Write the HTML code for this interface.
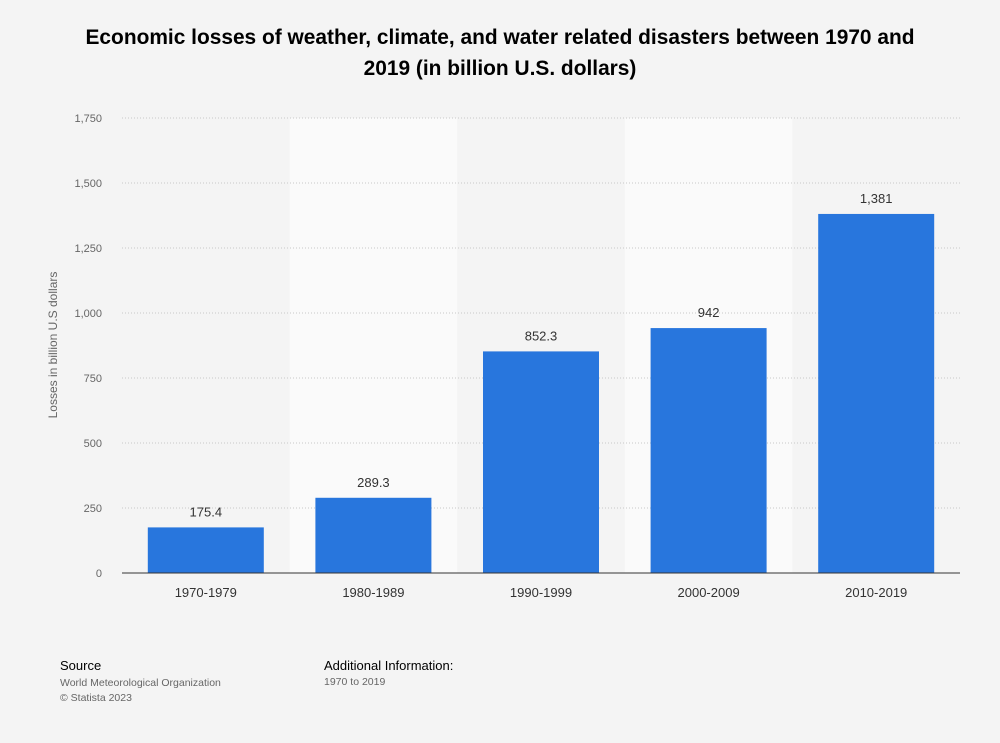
<!DOCTYPE html>
<html><head><meta charset="utf-8"><style>
body{margin:0;background:#f4f4f4;font-family:"Liberation Sans",Arial,sans-serif;}
#wrap{position:relative;width:1000px;height:743px;overflow:hidden;background:#f4f4f4;}
.t{position:absolute;}
</style></head><body>
<div id="wrap">
<div class="t" style="left:40px;width:920px;top:22px;text-align:center;font-weight:bold;font-size:20.9px;line-height:31px;color:#000;">Economic losses of weather, climate, and water related disasters between 1970 and<br>2019 (in billion U.S. dollars)</div>
<svg id="chart" width="1000" height="743" style="position:absolute;left:0;top:0"></svg>
<div class="t" style="left:60px;top:658px;font-size:13px;color:#000;">Source</div>
<div class="t" style="left:60px;top:676px;font-size:10.5px;color:#666;line-height:15px;">World Meteorological Organization<br>© Statista 2023</div>
<div class="t" style="left:324px;top:658px;font-size:13px;color:#000;">Additional Information:</div>
<div class="t" style="left:324px;top:676px;font-size:10.5px;color:#666;">1970 to 2019</div>
</div>
<script>
const categories=["1970-1979","1980-1989","1990-1999","2000-2009","2010-2019"];
const values=[175.4,289.3,852.3,942,1381];
const valueLabels=["175.4","289.3","852.3","942","1,381"];
const ticks=[0,250,500,750,1000,1250,1500,1750];
const tickLabels=["0","250","500","750","1,000","1,250","1,500","1,750"];
const NS="http://www.w3.org/2000/svg";
const svg=document.getElementById('chart');
const X0=122,X1=960,Y0=573,Y1=118,MAX=1750;
const bw=(X1-X0)/categories.length;
const y=v=>Y0-(v/MAX)*(Y0-Y1);
const xc=i=>X0+bw*(i+0.5);
function mk(tag,attrs){const e=document.createElementNS(NS,tag);for(const k in attrs)e.setAttribute(k,attrs[k]);svg.appendChild(e);return e;}
categories.forEach((c,i)=>{if(i%2===1){const r=mk('rect',{x:X0+bw*i,y:Y1,width:bw,height:Y0-Y1,fill:'#fafafa'});

}});
ticks.forEach((t,i)=>{
 if(t>0){const l=mk('line',{x1:X0,x2:X1,y1:y(t),y2:y(t),stroke:'#c8c8c8','stroke-dasharray':'1,2'});
 
 }
 const tx=mk('text',{x:102,y:y(t)+4,'text-anchor':'end','font-size':11,fill:'#666'});tx.textContent=tickLabels[i];
 
 
});
categories.forEach((c,i)=>{
 const w=116;
 const r=mk('rect',{x:xc(i)-w/2,y:y(values[i]),width:w,height:Y0-y(values[i]),fill:'#2876dd'});
 
 
 const v=mk('text',{x:xc(i),y:y(values[i])-11,'text-anchor':'middle','font-size':13,fill:'#333'});v.textContent=valueLabels[i];
 
 
 const xl=mk('text',{x:xc(i),y:597,'text-anchor':'middle','font-size':13,fill:'#333'});xl.textContent=c;
 
 
});
const ax=mk('line',{x1:X0,x2:X1,y1:Y0,y2:Y0,stroke:'#333','stroke-width':1});


const yt=mk('text',{x:0,y:0,'text-anchor':'middle','font-size':12,fill:'#666',transform:'translate(57,345) rotate(-90)'});yt.textContent='Losses in billion U.S dollars';


</script>
</body></html>
